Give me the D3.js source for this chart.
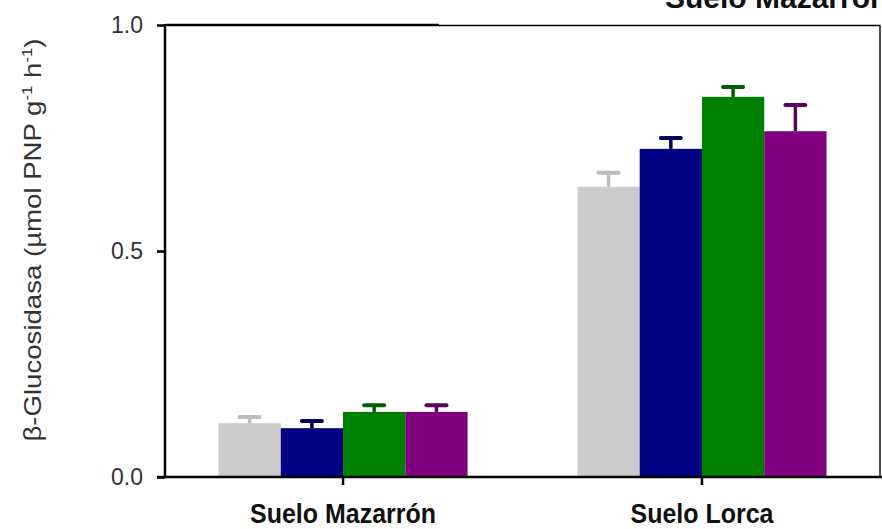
<!DOCTYPE html>
<html>
<head>
<meta charset="utf-8">
<script src="https://cdn.jsdelivr.net/npm/d3@7"></script>
<style>
  html, body { margin: 0; padding: 0; background: #ffffff; overflow: hidden; }
  svg { display: block; font-family: Arial, "Liberation Sans", sans-serif; }
</style>
</head>
<body>
<svg id="chart" width="882" height="529"></svg>
<script>
// Soil groups along the x axis
const groups = ["Suelo Mazarrón", "Suelo Lorca"];
// Four treatments drawn side by side in each group
const treatments = ["T1", "T2", "T3", "T4"];
const treatmentColors = ["#cccccc", "#000080", "#008000", "#800080"];
const errorColors = ["#bdbdbd", "#00005a", "#005c00", "#5e005e"];

// β-Glucosidase activity (µmol PNP g-1 h-1) and standard errors
const mazarronValues = [0.119, 0.108, 0.144, 0.144];
const mazarronErrors = [0.014, 0.016, 0.015, 0.015];
const lorcaValues = [0.642, 0.726, 0.841, 0.765];
const lorcaErrors = [0.031, 0.024, 0.022, 0.058];

const yTicks = [0.0, 0.5, 1.0];

const rows = [
  { group: groups[0], values: mazarronValues, errors: mazarronErrors },
  { group: groups[1], values: lorcaValues, errors: lorcaErrors }
];

const svg = d3.select("#chart");

const plot = { left: 165, right: 880, top: 25, bottom: 477 };

const x = d3.scaleBand()
  .domain(groups)
  .range([plot.left, plot.right])
  .paddingInner(0.306)
  .paddingOuter(0.149);

const xInner = d3.scaleBand()
  .domain(treatments)
  .range([0, x.bandwidth()])
  .padding(0);

const y = d3.scaleLinear().domain([0, 1]).range([plot.bottom, plot.top]);

// Bars
const groupSel = svg.append("g").selectAll("g")
  .data(rows)
  .join("g")
  .attr("transform", d => `translate(${x(d.group)},0)`);

groupSel.selectAll("rect")
  .data(d => d.values.map((v, i) => ({ key: treatments[i], value: v, err: d.errors[i], i })))
  .join("rect")
  .attr("x", d => xInner(d.key))
  .attr("y", d => y(d.value))
  .attr("width", xInner.bandwidth())
  .attr("height", d => y(0) - y(d.value))
  .attr("fill", d => treatmentColors[d.i]);

// Upper error bars
const capHalf = 10;
const errSel = groupSel.selectAll("g.err")
  .data(d => d.values.map((v, i) => ({ key: treatments[i], value: v, err: d.errors[i], i })))
  .join("g")
  .attr("class", "err");

errSel.append("line")
  .attr("x1", d => xInner(d.key) + xInner.bandwidth() / 2)
  .attr("x2", d => xInner(d.key) + xInner.bandwidth() / 2)
  .attr("y1", d => y(d.value))
  .attr("y2", d => y(d.value + d.err))
  .attr("stroke", d => errorColors[d.i])
  .attr("stroke-width", 3.5);

errSel.append("line")
  .attr("x1", d => xInner(d.key) + xInner.bandwidth() / 2 - capHalf)
  .attr("x2", d => xInner(d.key) + xInner.bandwidth() / 2 + capHalf)
  .attr("y1", d => y(d.value + d.err))
  .attr("y2", d => y(d.value + d.err))
  .attr("stroke", d => errorColors[d.i])
  .attr("stroke-width", 4)
  .attr("stroke-linecap", "round");

// Frame: top and right edges
svg.append("line")
  .attr("x1", plot.left).attr("x2", 439)
  .attr("y1", plot.top).attr("y2", plot.top)
  .attr("stroke", "#000").attr("stroke-width", 2.5);
svg.append("line")
  .attr("x1", 439).attr("x2", plot.right)
  .attr("y1", plot.top + 0.5).attr("y2", plot.top + 0.5)
  .attr("stroke", "#000").attr("stroke-width", 1.5);
svg.append("line")
  .attr("x1", plot.right).attr("x2", plot.right)
  .attr("y1", plot.top).attr("y2", plot.bottom)
  .attr("stroke", "#111").attr("stroke-width", 1.5);

// Y axis
const yAxis = svg.append("g")
  .attr("transform", `translate(${plot.left},0)`)
  .call(d3.axisLeft(y).tickValues(yTicks).tickFormat(d3.format(".1f")).tickSize(8).tickPadding(14));
yAxis.select(".domain").remove();
yAxis.append("line")
  .attr("x1", 0).attr("x2", 0)
  .attr("y1", plot.top - 1).attr("y2", plot.bottom)
  .attr("stroke", "#000").attr("stroke-width", 2.5);
yAxis.selectAll(".tick line").attr("stroke", "#000").attr("stroke-width", 2.5);
yAxis.selectAll(".tick text")
  .attr("fill", "#333")
  .style("font-size", "23px")
  .style("font-family", "Arial, 'Liberation Sans', sans-serif");

// X axis
const xAxis = svg.append("g")
  .attr("transform", `translate(0,${plot.bottom})`)
  .call(d3.axisBottom(x).tickSize(8).tickFormat(""));
xAxis.select(".domain").remove();
xAxis.append("line")
  .attr("x1", 157).attr("x2", 882)
  .attr("y1", 0).attr("y2", 0)
  .attr("stroke", "#000").attr("stroke-width", 2.5);
xAxis.selectAll(".tick line").attr("stroke", "#000").attr("stroke-width", 2.5);

// Group labels
svg.append("g").selectAll("text")
  .data(groups)
  .join("text")
  .attr("transform", d => `translate(${x(d) + x.bandwidth() / 2},523) scale(1,1.12)`)
  .attr("text-anchor", "middle")
  .attr("fill", "#111")
  .style("font-size", "25px")
  .style("font-weight", "bold")
  .text(d => d);

// Y axis title with superscript exponents
const yTitle = svg.append("text")
  .attr("transform", "translate(41,240) rotate(-90) scale(1.2,1)")
  .attr("text-anchor", "middle")
  .attr("fill", "#333")
  .style("font-size", "23px");
yTitle.append("tspan").text("β-Glucosidasa (µmol PNP g");
yTitle.append("tspan").attr("dy", -9).style("font-size", "14px").text("-1");
yTitle.append("tspan").attr("dy", 9).text(" h");
yTitle.append("tspan").attr("dy", -9).style("font-size", "14px").text("-1");
yTitle.append("tspan").attr("dy", 9).text(")");

// Panel title, partly outside the drawing area
svg.append("text")
  .attr("x", 665)
  .attr("y", 8)
  .attr("fill", "#111")
  .style("font-size", "30px")
  .style("font-weight", "bold")
  .text("Suelo Mazarrón");
</script>
</body>
</html>
